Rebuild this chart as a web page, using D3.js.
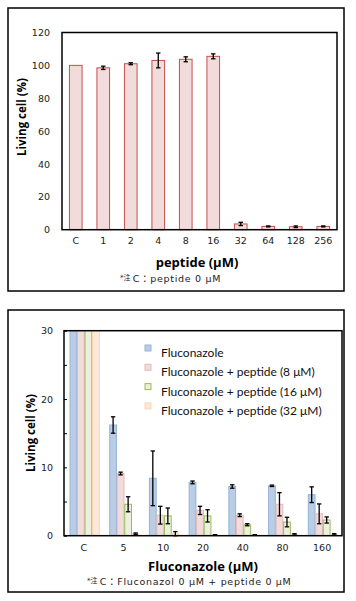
<!DOCTYPE html>
<html><head><meta charset="utf-8">
<script src="https://cdn.jsdelivr.net/npm/d3@7"></script>
<style>
body{margin:0;background:#fff;}
svg{display:block;}
</style></head>
<body>
<script>
// ---- Top chart data ----
const topCats = ["C","1","2","4","8","16","32","64","128","256"];
const topValues = [100, 98.5, 101, 103, 103.7, 105.5, 3.5, 2.0, 1.8, 2.0];
const topErrors = [0, 1.0, 0.6, 4.5, 1.5, 1.5, 1.0, 0.3, 0.5, 0.3];
const topTicks = [0, 20, 40, 60, 80, 100, 120];

// ---- Bottom chart data ----
const botCats = ["C","5","10","20","40","80","160"];
const seriesNames = ["Fluconazole","Fluconazole + peptide (8 μM)","Fluconazole + peptide (16 μM)","Fluconazole + peptide (32 μM)"];
const fluValues   = [100, 16.2, 8.4, 7.8, 7.2, 7.3, 6.0];
const fluErrors   = [0, 1.2, 4.0, 0.2, 0.25, 0.1, 1.15];
const p8Values    = [100, 9.1, 3.0, 3.7, 3.0, 4.6, 3.2];
const p8Errors    = [0, 0.2, 1.3, 0.6, 0.2, 1.7, 1.45];
const p16Values   = [100, 4.6, 2.9, 2.9, 1.6, 2.0, 2.3];
const p16Errors   = [0, 1.1, 1.15, 0.9, 0.15, 0.7, 0.45];
const p32Values   = [100, 0.3, 0.3, 0.1, 0.1, 0.2, 0.2];
const p32Errors   = [0, 0.1, 0.3, 0.05, 0.05, 0.1, 0.1];
const botTicks = [0, 10, 20, 30];
const botMinorTicks = [0, 5, 10, 15, 20, 25, 30];

const fills   = ["#b9cde5","#f2dcdb","#ebf1de","#fde9d9"];
const strokes = ["#95b3d7","#e6b9b8","#9bbb59","#fcd5b4"];

const W = 356, H = 601;
const svg = d3.select("body").append("svg").attr("width", W).attr("height", H);

const tickFont = "'DejaVu Sans','Noto Sans CJK JP',sans-serif";
const noteFont = "'DejaVu Sans','Noto Sans CJK JP',sans-serif";
const titleFont = "'Open Sans','DejaVu Sans',sans-serif";

// Outer boxes
svg.append("rect").attr("x",8).attr("y",8).attr("width",336).attr("height",283)
  .attr("fill","none").attr("stroke","#000").attr("stroke-width",1.5);
svg.append("rect").attr("x",8).attr("y",310).attr("width",336).attr("height",282)
  .attr("fill","none").attr("stroke","#000").attr("stroke-width",1.5);

// ================= TOP CHART =================
{
  const x = d3.scaleBand().domain(topCats).range([62, 337]).padding(0);
  const y = d3.scaleLinear().domain([0, 120]).range([229.7, 32.5]);
  const g = svg.append("g");
  const bw = x.bandwidth() * 0.46;

  g.selectAll("rect.bar").data(topCats).join("rect").attr("class","bar")
    .attr("x", d => x(d) + (x.bandwidth() - bw) / 2)
    .attr("y", (d,i) => y(topValues[i]))
    .attr("width", bw)
    .attr("height", (d,i) => y(0) - y(topValues[i]))
    .attr("fill", "#f2dcdb").attr("stroke", "#c0504d").attr("stroke-width", 1);

  topCats.forEach((c,i) => {
    if (!topErrors[i]) return;
    const cx = x(c) + x.bandwidth()/2;
    const y1 = y(topValues[i] + topErrors[i]), y2 = y(topValues[i] - topErrors[i]);
    g.append("line").attr("x1",cx).attr("x2",cx).attr("y1",y1).attr("y2",y2).attr("stroke","#000").attr("stroke-width",1.3);
    [y1,y2].forEach(yy => g.append("line").attr("x1",cx-2.2).attr("x2",cx+2.2).attr("y1",yy).attr("y2",yy).attr("stroke","#000").attr("stroke-width",1.3));
  });

  g.append("rect").attr("x",62).attr("y",y(120)).attr("width",337-62).attr("height",y(0)-y(120))
    .attr("fill","none").attr("stroke","#000").attr("stroke-width",1.5);

  const ya = d3.axisLeft(y).tickValues(topTicks).tickSize(0).tickPadding(12);
  const yg = g.append("g").attr("transform","translate(62,0)").call(ya);
  yg.select(".domain").remove();
  yg.selectAll("text").attr("font-family",tickFont).attr("font-size",9.5).attr("fill","#222");

  const xa = d3.axisBottom(x).tickSize(0).tickPadding(8);
  const xg = g.append("g").attr("transform",`translate(0,${y(0)})`).call(xa);
  xg.select(".domain").remove();
  xg.selectAll("text").attr("font-family",tickFont).attr("font-size",9.5).attr("fill","#222");

  g.append("text").attr("x",197).attr("y",267).attr("text-anchor","middle")
    .attr("font-family",titleFont).attr("font-weight","bold").attr("font-size",13).text("peptide (μM)");
  g.append("text").attr("transform","translate(26,117) rotate(-90)").attr("text-anchor","middle")
    .attr("font-family",titleFont).attr("font-weight","bold").attr("font-size",11.5).text("Living cell (%)");

  const note = g.append("text").attr("x",120).attr("y",282).attr("font-family",noteFont).attr("font-size",9.5).attr("fill","#222");
  note.append("tspan").attr("font-size",7).attr("dy",-2).text("*注 ");
  note.append("tspan").attr("dy",2).attr("letter-spacing",0.7).text("C：peptide 0 μM");
}

// ================= BOTTOM CHART =================
{
  const x = d3.scaleBand().domain(botCats).range([64, 342]).padding(0);
  const y = d3.scaleLinear().domain([0, 30]).range([535.7, 330.7]);
  const g = svg.append("g");
  const inner = d3.scaleBand().domain(d3.range(4)).range([6, 35.3]).paddingInner(0.1);
  const vals = [fluValues, p8Values, p16Values, p32Values];
  const errs = [fluErrors, p8Errors, p16Errors, p32Errors];

  svg.append("clipPath").attr("id","clipB").append("rect")
    .attr("x",64).attr("y",y(30)).attr("width",342-64).attr("height",y(0)-y(30));

  const bars = g.append("g").attr("clip-path","url(#clipB)");
  vals.forEach((arr, s) => {
    bars.selectAll(`rect.s${s}`).data(botCats).join("rect").attr("class",`s${s}`)
      .attr("x", d => x(d) + inner(s))
      .attr("y", (d,i) => y(arr[i]))
      .attr("width", inner.bandwidth())
      .attr("height", (d,i) => y(0) - y(arr[i]))
      .attr("fill", fills[s]).attr("stroke", strokes[s]).attr("stroke-width", 1);
  });

  vals.forEach((arr, s) => {
    botCats.forEach((c,i) => {
      if (!errs[s][i]) return;
      const cx = x(c) + inner(s) + inner.bandwidth()/2;
      const y1 = y(arr[i] + errs[s][i]), y2 = y(Math.max(0, arr[i] - errs[s][i]));
      g.append("line").attr("x1",cx).attr("x2",cx).attr("y1",y1).attr("y2",y2).attr("stroke","#000").attr("stroke-width",1.3);
      [y1,y2].forEach(yy => g.append("line").attr("x1",cx-2.2).attr("x2",cx+2.2).attr("y1",yy).attr("y2",yy).attr("stroke","#000").attr("stroke-width",1.3));
    });
  });

  g.append("rect").attr("x",64).attr("y",y(30)).attr("width",342-64).attr("height",y(0)-y(30))
    .attr("fill","none").attr("stroke","#000").attr("stroke-width",1.5);

  const tk = d3.axisRight(y).tickValues(botMinorTicks).tickSize(3).tickFormat("");
  const tg = g.append("g").attr("transform","translate(64,0)").call(tk);
  tg.select(".domain").remove();
  tg.selectAll("line").attr("stroke","#000").attr("stroke-width",1);

  const ya = d3.axisLeft(y).tickValues(botTicks).tickSize(0).tickPadding(11);
  const yg = g.append("g").attr("transform","translate(64,0)").call(ya);
  yg.select(".domain").remove();
  yg.selectAll("text").attr("font-family",tickFont).attr("font-size",9.5).attr("fill","#222");

  const xa = d3.axisBottom(x).tickSize(0).tickPadding(9);
  const xg = g.append("g").attr("transform",`translate(0,${y(0)})`).call(xa);
  xg.select(".domain").remove();
  xg.selectAll("text").attr("font-family",tickFont).attr("font-size",9.5).attr("fill","#222");

  g.append("text").attr("x",203).attr("y",571).attr("text-anchor","middle")
    .attr("font-family",titleFont).attr("font-weight","bold").attr("font-size",13).text("Fluconazole (μM)");
  g.append("text").attr("transform","translate(35,433) rotate(-90)").attr("text-anchor","middle")
    .attr("font-family",titleFont).attr("font-weight","bold").attr("font-size",11.5).text("Living cell (%)");

  const note = g.append("text").attr("x",87).attr("y",585).attr("font-family",noteFont).attr("font-size",9.5).attr("fill","#222");
  note.append("tspan").attr("font-size",7).attr("dy",-2).text("*注 ");
  note.append("tspan").attr("dy",2).attr("letter-spacing",0.7).text("C：Fluconazol 0 μM + peptide 0 μM");

  const lg = g.append("g");
  seriesNames.forEach((n, s) => {
    const yy = 345 + s * 19.3;
    lg.append("rect").attr("x",145).attr("y",yy).attr("width",6).attr("height",6)
      .attr("fill",fills[s]).attr("stroke",strokes[s]).attr("stroke-width",1);
    lg.append("text").attr("x",161).attr("y",yy+12).attr("font-family","Lato, 'Liberation Sans', sans-serif")
      .attr("font-size",12).attr("fill","#111").text(n);
  });
}
</script>
</body></html>
